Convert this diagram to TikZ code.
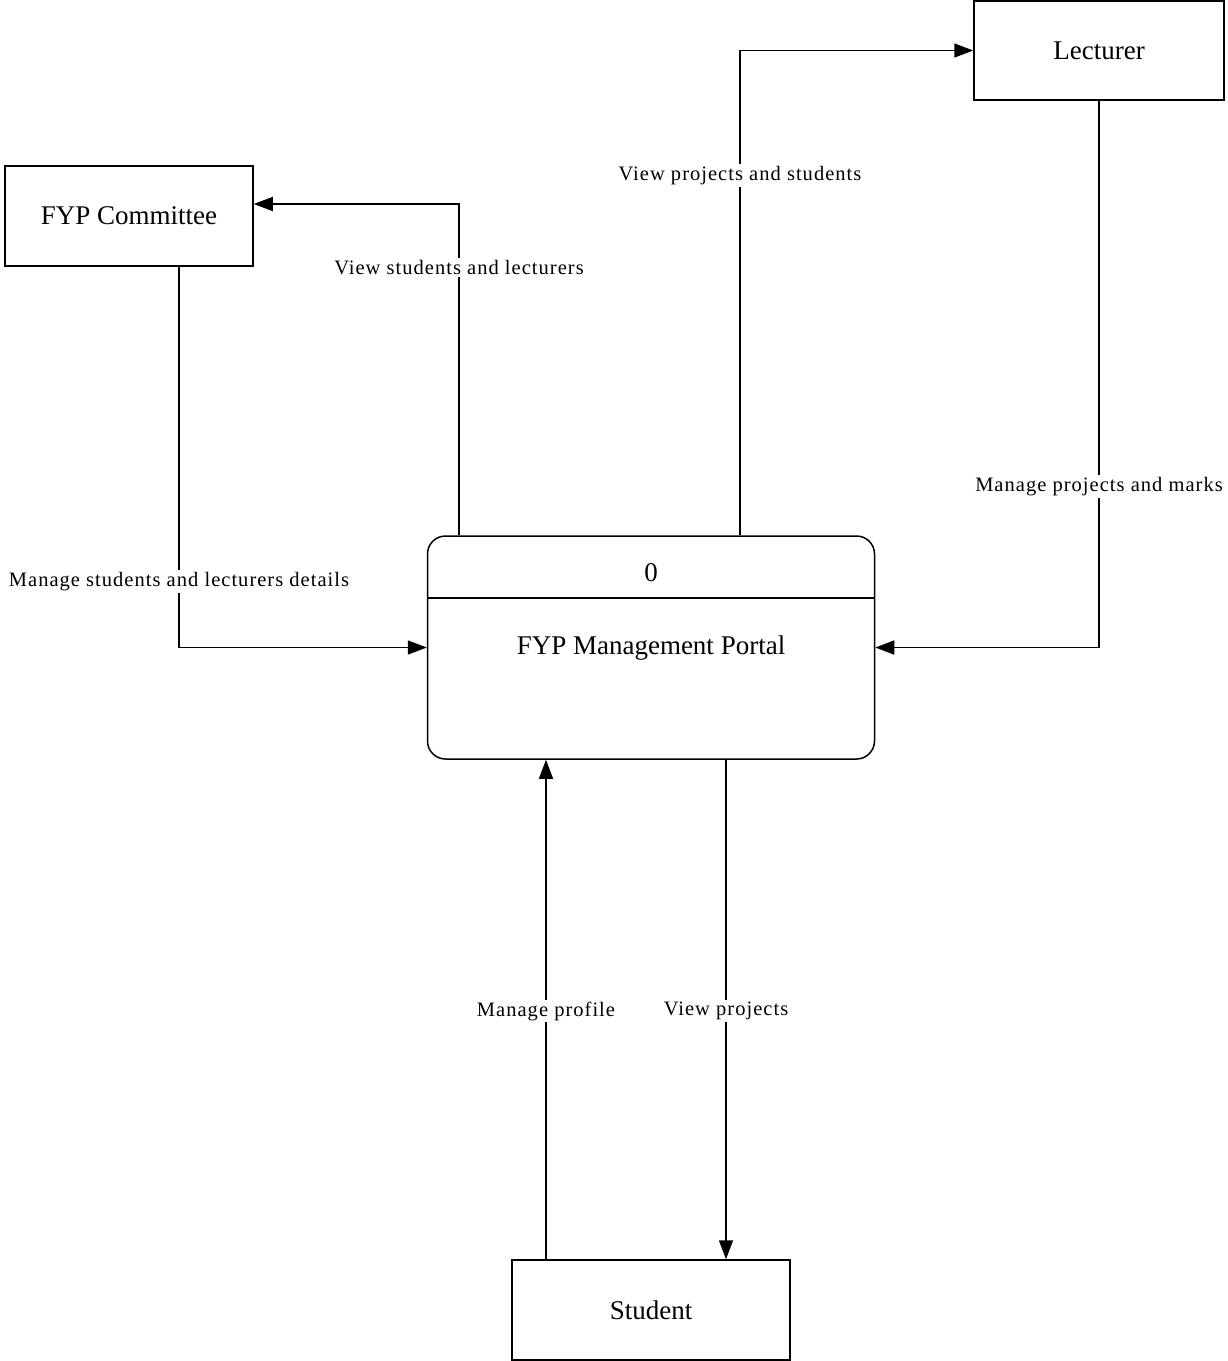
\documentclass[tikz,border=0pt]{standalone}
\usepackage{fontspec}
\setmainfont{Liberation Serif}
\newfontfamily\lblfont[LetterSpace=5]{Liberation Serif}
\usetikzlibrary{arrows.meta}
\begin{document}
\begin{tikzpicture}[x=1pt,y=-1pt,
  entity/.style={draw,line width=1.5pt,rectangle,inner sep=0pt,
    font=\fontsize{27}{32}\selectfont},
  flow/.style={draw,line width=1.5pt,-{Triangle[length=19pt,width=14pt]}},
  lbl/.style={fill=white,inner sep=2pt,font=\lblfont\fontsize{20.5}{24}\selectfont}]
\useasboundingbox (0,0) rectangle (1228,1361);

% external entities
\node[entity,minimum width=250pt,minimum height=99pt] (lect) at (1099,50.5) {Lecturer};
\node[entity,minimum width=248pt,minimum height=100pt] (comm) at (129,216) {FYP Committee};
\node[entity,minimum width=278pt,minimum height=100pt] (stud) at (651,1310) {Student};

% process
\node[draw,line width=1.5pt,rounded corners=18pt,minimum width=447pt,minimum height=223pt,inner sep=0pt] (proc) at (651,647.5) {};
\draw[line width=1.5pt] (proc.west |- 0,598) -- (proc.east |- 0,598);
\node[font=\fontsize{27}{32}\selectfont] (pid) at (651,573) {0};
\node[font=\fontsize{27}{32}\selectfont] (pname) at (651,648) {FYP Management Portal};

% data flows
\draw[flow] ([xshift=-192pt]proc.north) |- ([yshift=12pt]comm.east)
  node[lbl,pos=0.404] {View students and lecturers};
\draw[flow] ([xshift=89pt]proc.north) |- (lect.west)
  node[lbl,pos=0.371] {View projects and students};
\draw[flow] (lect.south) |- (proc.east)
  node[lbl,pos=0.353] {Manage projects and marks};
\draw[flow] ([xshift=50pt]comm.south) |- (proc.west)
  node[lbl,pos=0.413] {Manage students and lecturers details};
\draw[flow] ([xshift=-105pt]stud.north) -- ([xshift=-105pt]proc.south)
  node[lbl,pos=0.497] {Manage profile};
\draw[flow] ([xshift=75pt]proc.south) -- ([xshift=75pt]stud.north)
  node[lbl,pos=0.503] {View projects};
\end{tikzpicture}
\end{document}
